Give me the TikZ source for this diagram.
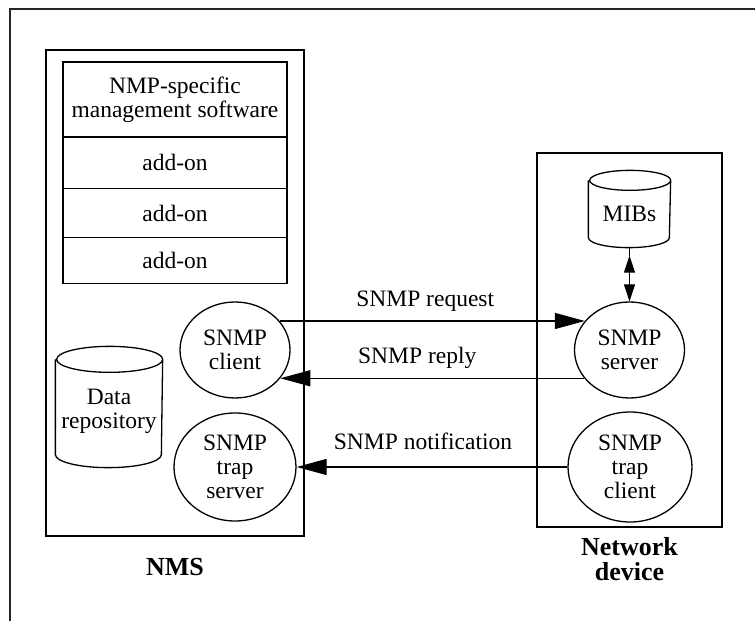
\documentclass[tikz,border=0pt]{standalone}
\usepackage{fontspec}
\setmainfont{Liberation Serif}
\usetikzlibrary{arrows.meta,shapes.geometric}
\begin{document}
\begin{tikzpicture}[x=1pt,y=1pt, line width=1.3pt,
  every node/.style={font=\fontsize{23.5}{24}\selectfont, align=center},
  stackbox/.style={draw, rectangle, inner sep=0pt, minimum width=224pt},
  ell/.style={draw, ellipse, inner sep=0pt},
  cylnode/.style={rectangle, inner sep=0pt},
  bigtip/.style={-{Triangle[length=30pt,width=16pt]}},
  smalltips/.style={{Triangle[length=17pt,width=11pt]}-{Triangle[length=17pt,width=11pt]}},
  titletext/.style={font=\fontsize{26}{25}\selectfont\bfseries},
  lab/.style={anchor=base}]
\useasboundingbox (0,0) rectangle (755,621);
\draw[line width=2pt, black!85] (10,0) -- (10,612) -- (755,612);

% NMS
\node[draw, rectangle, inner sep=0pt, minimum width=258pt, minimum height=486pt] (nmsbox) at (175,328) {};
\node[stackbox, minimum height=75pt] (sw) at (175,521.5) {NMP-specific\\management software};
\node[stackbox, minimum height=51.6pt] (a1) at (175,458.5) {add-on};
\node[stackbox, minimum height=49.4pt] (a2) at (175,408) {add-on};
\node[stackbox, minimum height=45.6pt] (a3) at (175,360.5) {add-on};
\node[ell, minimum width=110pt, minimum height=96pt] (client) at (235,271) {SNMP\\client};
\node[ell, minimum width=122pt, minimum height=108pt] (trapserver) at (235,154) {SNMP\\trap\\server};
\node[cylnode, minimum width=106pt, minimum height=120pt] (data) at (109,214) {};
\node (datatext) at (109,210) {Data\\repository};
\draw ([yshift=-13pt]data.north west) -- ([yshift=13pt]data.south west)
  arc[start angle=180, end angle=360, x radius=53pt, y radius=13pt]
  -- ([yshift=-13pt]data.north east)
  arc[start angle=0, end angle=360, x radius=53pt, y radius=13pt];
\node[titletext] (nmslabel) at (175,54) {NMS};

% Network device
\node[draw, rectangle, inner sep=0pt, minimum width=185pt, minimum height=374pt] (ndbox) at (629.5,281) {};
\node[cylnode, minimum width=81pt, minimum height=76pt] (mibs) at (629.5,412) {};
\node (mibstext) at (629.5,407) {MIBs};
\draw ([yshift=-10pt]mibs.north west) -- ([yshift=10pt]mibs.south west)
  arc[start angle=180, end angle=360, x radius=40.5pt, y radius=10pt]
  -- ([yshift=-10pt]mibs.north east)
  arc[start angle=0, end angle=360, x radius=40.5pt, y radius=10pt];
\node[ell, minimum width=110pt, minimum height=96pt] (server) at (629.5,271) {SNMP\\server};
\node[ell, minimum width=124pt, minimum height=110pt] (trapclient) at (630,154) {SNMP\\trap\\client};
\node[titletext] (ndlabel) at (629.5,61.5) {Network\\device};

% connectors
\draw (mibs.south) -- ([yshift=-8pt]mibs.south);
\draw[smalltips, shorten <=8pt] (mibs.south) -- (server.north);
\draw[bigtip] (client.33) -- node[lab, xshift=-7pt, yshift=14pt]{SNMP request} (server.147);
\draw[bigtip] (server.212) -- node[lab, xshift=-15pt, yshift=15pt]{SNMP reply} (client.-32);
\draw[bigtip] (trapclient.west) -- node[lab, xshift=-9pt, yshift=17pt]{SNMP notification} (trapserver.east);
\end{tikzpicture}
\end{document}
